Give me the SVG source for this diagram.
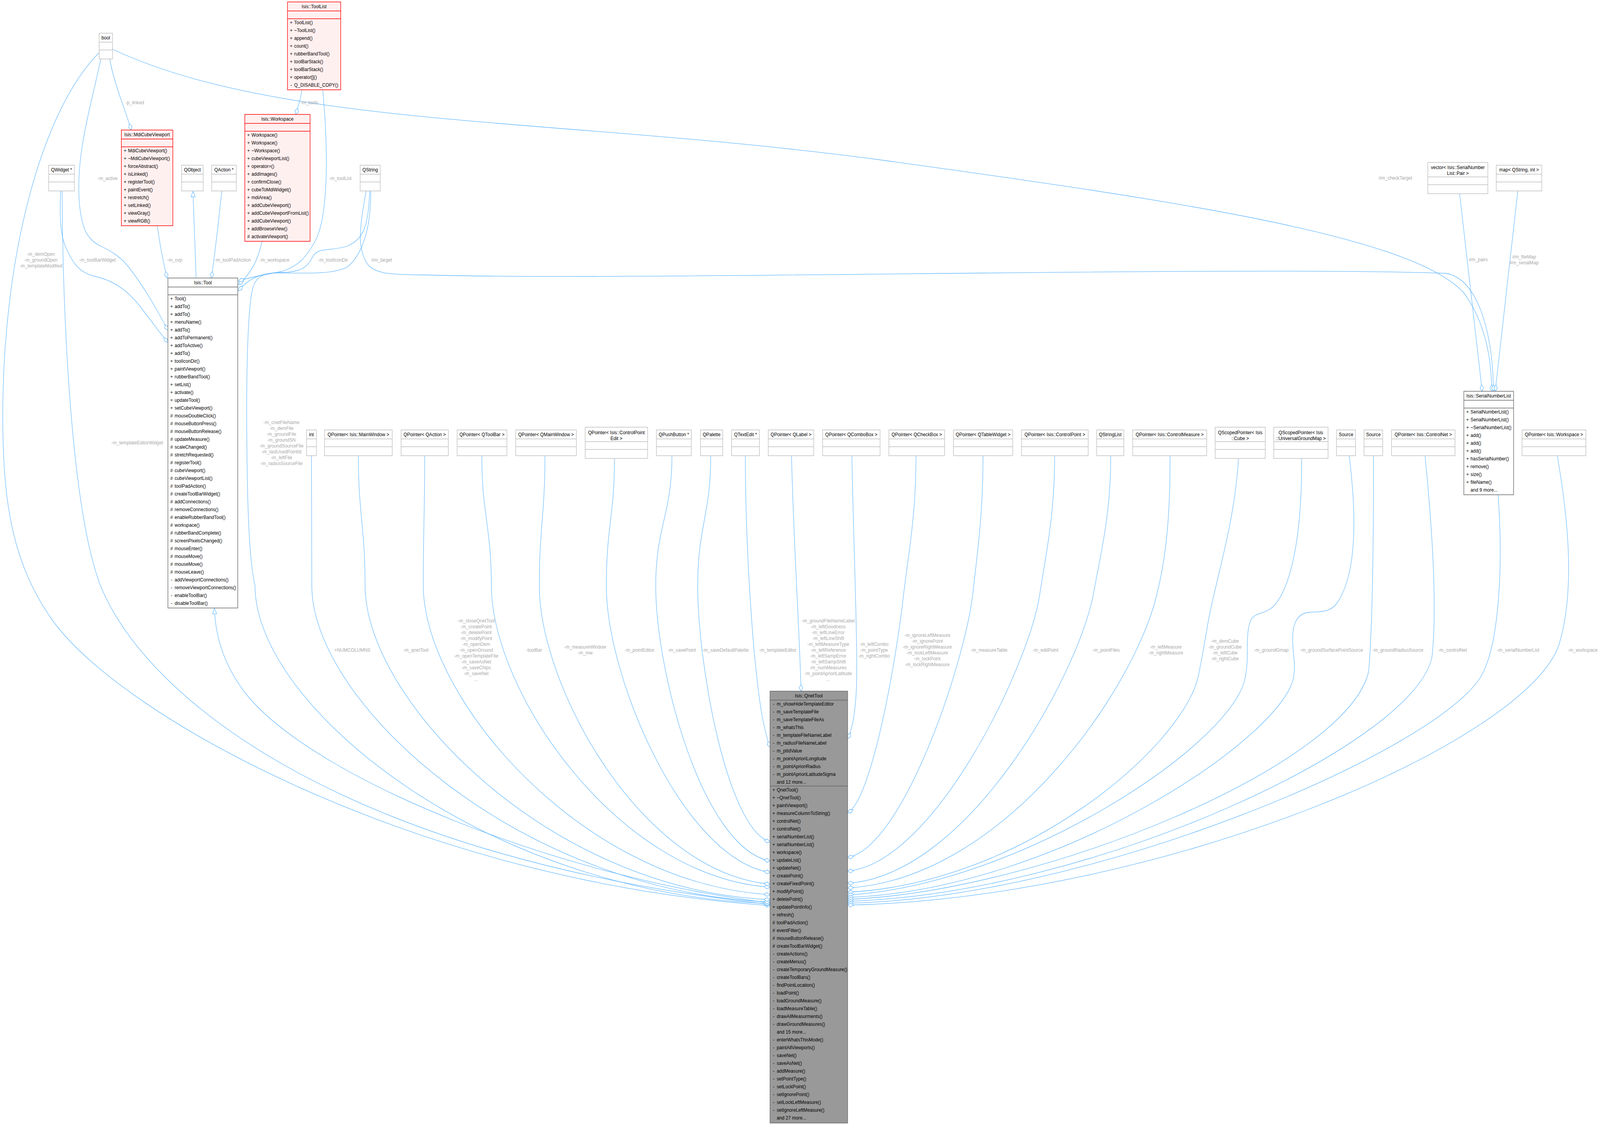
<svg xmlns="http://www.w3.org/2000/svg" width="4536" height="2881" viewBox="0 0 4536 2881" preserveAspectRatio="none" style="width:100vw;height:100vh">
<defs>
<style>
text{font-family:"Liberation Sans",Arial,Helvetica,sans-serif;font-size:13px;fill:#000}
.h,.v{text-anchor:middle}
.l{fill:#a8a8a8;text-anchor:middle}
.b{fill:#fff;stroke:#bfbfbf;stroke-width:1.5}
.bd{fill:#fff;stroke:#666;stroke-width:1.5}
.br{fill:#fff0f0;stroke:#ff0000;stroke-width:1.5}
.bq{fill:#999;stroke:#666;stroke-width:1.5}
.s{stroke:#bfbfbf;stroke-width:1.5;fill:none}
.sd{stroke:#666;stroke-width:1.5;fill:none}
.sr{stroke:#ff0000;stroke-width:1.5;fill:none}
.e{fill:none;stroke:#63b8ff;stroke-width:1.3}
.a{marker-end:url(#dia)}
.i{marker-end:url(#tri)}
</style>
<marker id="dia" viewBox="-19 -7 21 14" refX="0" refY="0" markerWidth="21" markerHeight="14" markerUnits="userSpaceOnUse" orient="auto"><path d="M0,0 L-8.5,-5 L-17,0 L-8.5,5 Z" fill="#fff" stroke="#63b8ff" stroke-width="1.3"/></marker>
<marker id="tri" viewBox="-16 -8 18 16" refX="0" refY="0" markerWidth="18" markerHeight="16" markerUnits="userSpaceOnUse" orient="auto"><path d="M0,0 L-14,-6 L-14,6 Z" fill="#fff" stroke="#63b8ff" stroke-width="1.3"/></marker>
</defs>
<rect width="4536" height="2881" fill="#fff"/>

<g id="edges">
<path class="e a" d="M311,151 C325,220 355,280 372,333"/>
<path class="e a" d="M856,230 C852,255 845,275 838,293"/>
<path class="e a" d="M286,151 C250,300 215,400 225,520 C232,590 250,615 285,630 C320,645 345,660 370,690 C420,750 455,810 476,846"/>
<path class="e a" d="M172,489 C168,560 172,610 190,640 C210,680 230,700 270,708 C330,720 370,750 410,800 C440,835 460,860 476,877"/>
<path class="e a" d="M446,578 C455,640 465,680 474,712"/>
<path class="e i" d="M556,712 C553,640 550,560 547,490"/>
<path class="e a" d="M629,489 C620,560 610,650 599,712"/>
<path class="e a" d="M743,618 C735,650 722,680 705,700 C695,712 686,722 676,728"/>
<path class="e a" d="M915,230 C932,400 930,560 892,620 C870,655 850,680 800,695 C740,705 700,712 676,720"/>
<path class="e a" d="M1048,489 C1045,580 1030,612 985,630 C940,645 900,630 885,660 C870,690 840,698 790,698 C730,700 700,718 676,745"/>
<path class="e a" d="M319,126 C800,330 1600,300 2500,410 C3300,510 4000,600 4150,750 C4215,830 4229,930 4229,1002"/>
<path class="e a" d="M1038,489 C1020,580 1010,640 1045,680 C1070,702 1110,703 1200,704 C1800,720 3500,680 4100,700 C4190,715 4232,850 4234,1002"/>
<path class="e a" d="M4138,496 L4202,1002"/>
<path class="e a" d="M4303,489 L4239,1002"/>
<path class="e i" d="M2183,2312 C1600,2250 900,2000 700,1780 C630,1700 610,1620 608,1558"/>
<path class="e a" d="M281,135 C120,280 10,650 8,1050 C6,1300 40,1450 150,1590 C350,1840 1200,2260 2183,2319"/>
<path class="e a" d="M176,489 C178,800 200,1300 285,1500 C420,1800 1000,2200 2183,2316"/>
<path class="e a" d="M1051,489 C1052,580 1030,645 990,680 C960,702 880,700 800,699 C750,698 726,705 716,740 C700,800 698,1000 700,1150 C702,1350 710,1450 723,1500 C723,1810 1380,2290 2183,2314"/>
<path class="e a" d="M883,1167 C883,1317 884,1350 884,1500 C884,1800 1470,2283 2183,2310"/>
<path class="e a" d="M1016,1167 C1016,1317 1035,1350 1035,1500 C1035,1790 1550,2278 2183,2304"/>
<path class="e a" d="M1204,1167 C1204,1317 1200,1350 1200,1500 C1200,1780 1640,2262 2183,2291"/>
<path class="e a" d="M1366,1167 C1366,1317 1393,1350 1393,1500 C1393,1770 1750,2245 2183,2272"/>
<path class="e a" d="M1545,1167 C1545,1317 1529,1350 1529,1500 C1529,1760 1820,2235 2183,2264"/>
<path class="e a" d="M1742,1174 C1742,1320 1719,1350 1719,1500 C1719,1740 1940,2200 2183,2234"/>
<path class="e a" d="M1905,1167 C1905,1317 1859,1350 1859,1500 C1859,1720 1990,2170 2183,2205"/>
<path class="e a" d="M2015,1167 C2015,1317 1978,1350 1978,1500 C1978,1700 2060,2120 2183,2156"/>
<path class="e a" d="M2113,1167 C2113,1400 2135,1700 2160,1830 C2168,1870 2176,1895 2183,1914"/>
<path class="e a" d="M2244,1167 C2250,1400 2266,1600 2271,1770"/>
<path class="e a" d="M2415,1167 C2420,1400 2432,1650 2428,1760 C2425,1830 2415,1870 2403,1892"/>
<path class="e a" d="M2597,1167 C2597,1320 2575,1420 2562,1520 C2540,1700 2470,2050 2403,2081"/>
<path class="e a" d="M2787,1167 C2787,1320 2770,1420 2758,1520 C2735,1700 2560,2170 2403,2196"/>
<path class="e a" d="M2990,1167 C2990,1320 2965,1420 2948,1520 C2920,1700 2650,2210 2403,2231"/>
<path class="e a" d="M3149,1167 C3149,1320 3120,1420 3100,1520 C3060,1720 2750,2240 2403,2262"/>
<path class="e a" d="M3317,1167 C3318,1350 3300,1450 3280,1520 C3220,1760 2850,2250 2403,2274"/>
<path class="e a" d="M3511,1175 C3500,1350 3440,1500 3420,1620 C3408,1680 3405,1700 3395,1740 C3340,1920 2900,2262 2403,2285"/>
<path class="e a" d="M3690,1175 C3692,1400 3650,1530 3600,1560 C3575,1574 3555,1570 3545,1590 C3536,1610 3536,1640 3536,1680 C3536,1700 3535,1715 3530,1735 C3500,1900 2900,2265 2403,2292"/>
<path class="e a" d="M3825,1167 C3850,1350 3840,1480 3790,1545 C3770,1570 3740,1566 3710,1568 C3675,1572 3662,1600 3665,1650 C3668,1690 3672,1700 3668,1730 C3650,1880 3000,2280 2403,2298"/>
<path class="e a" d="M3894,1167 C3894,1400 3890,1620 3880,1720 C3820,1960 2950,2285 2403,2303"/>
<path class="e a" d="M4040,1167 C4060,1350 4075,1550 4060,1680 C4020,1900 3100,2290 2403,2308"/>
<path class="e a" d="M4247,1267 C4262,1450 4250,1650 4200,1730 C4080,1920 3100,2300 2403,2313"/>
<path class="e a" d="M4415,1167 C4440,1300 4470,1500 4420,1650 C4330,1900 3300,2300 2403,2318"/>
</g>

<g id="edge-labels">
<text class="l" x="382" y="267.5">-p_linked</text>
<text class="l" x="877" y="267.5">-m_tools</text>
<text class="l" x="305" y="461.5">-m_active</text>
<text class="l" x="965" y="461.5">-m_toolList</text>
<text class="l" y="655.5"><tspan x="116">-m_demOpen</tspan><tspan x="116" dy="15">-m_groundOpen</tspan><tspan x="116" dy="15">-m_templateModified</tspan></text>
<text class="l" x="276" y="670.5">-m_toolBarWidget</text>
<text class="l" x="495" y="670.5">-m_cvp</text>
<text class="l" x="660" y="670.5">-m_toolPadAction</text>
<text class="l" x="778" y="670.5">-m_workspace</text>
<text class="l" x="944" y="670.5">-m_toolIconDir</text>
<text class="l" x="1082" y="670.5">#m_target</text>
<text class="l" x="3956" y="460.5">#m_checkTarget</text>
<text class="l" x="4191" y="669.5">#m_pairs</text>
<text class="l" y="662.5"><tspan x="4321">#m_fileMap</tspan><tspan x="4321" dy="15">#m_serialMap</tspan></text>
<text class="l" x="389" y="1138.5">-m_templateEditorWidget</text>
<text class="l" y="1086.5"><tspan x="798">-m_cnetFileName</tspan><tspan x="798" dy="15">-m_demFile</tspan><tspan x="798" dy="15">-m_groundFile</tspan><tspan x="798" dy="15">-m_groundSN</tspan><tspan x="798" dy="15">-m_groundSourceFile</tspan><tspan x="798" dy="15">-m_lastUsedPointId</tspan><tspan x="798" dy="15">-m_leftFile</tspan><tspan x="798" dy="15">-m_radiusSourceFile</tspan></text>
<text class="l" x="999" y="1669.5">+NUMCOLUMNS</text>
<text class="l" x="1179" y="1669.5">-m_qnetTool</text>
<text class="l" y="1594.5"><tspan x="1350">-m_closeQnetTool</tspan><tspan x="1350" dy="15">-m_createPoint</tspan><tspan x="1350" dy="15">-m_deletePoint</tspan><tspan x="1350" dy="15">-m_modifyPoint</tspan><tspan x="1350" dy="15">-m_openDem</tspan><tspan x="1350" dy="15">-m_openGround</tspan><tspan x="1350" dy="15">-m_openTemplateFile</tspan><tspan x="1350" dy="15">-m_saveAsNet</tspan><tspan x="1350" dy="15">-m_saveChips</tspan><tspan x="1350" dy="15">-m_saveNet</tspan><tspan x="1350" dy="15">...</tspan></text>
<text class="l" x="1514" y="1669.5">-toolBar</text>
<text class="l" y="1661.5"><tspan x="1659">-m_measureWindow</tspan><tspan x="1659" dy="15">-m_mw</tspan></text>
<text class="l" x="1813" y="1669.5">-m_pointEditor</text>
<text class="l" x="1933" y="1669.5">-m_savePoint</text>
<text class="l" x="2057" y="1669.5">-m_saveDefaultPalette</text>
<text class="l" x="2205" y="1669.5">-m_templateEditor</text>
<text class="l" y="1594.5"><tspan x="2348">-m_groundFileNameLabel</tspan><tspan x="2348" dy="15">-m_leftGoodness</tspan><tspan x="2348" dy="15">-m_leftLineError</tspan><tspan x="2348" dy="15">-m_leftLineShift</tspan><tspan x="2348" dy="15">-m_leftMeasureType</tspan><tspan x="2348" dy="15">-m_leftReference</tspan><tspan x="2348" dy="15">-m_leftSampError</tspan><tspan x="2348" dy="15">-m_leftSampShift</tspan><tspan x="2348" dy="15">-m_numMeasures</tspan><tspan x="2348" dy="15">-m_pointAprioriLatitude</tspan><tspan x="2348" dy="15">...</tspan></text>
<text class="l" y="1654.5"><tspan x="2478">-m_leftCombo</tspan><tspan x="2478" dy="15">-m_pointType</tspan><tspan x="2478" dy="15">-m_rightCombo</tspan></text>
<text class="l" y="1631.5"><tspan x="2629">-m_ignoreLeftMeasure</tspan><tspan x="2629" dy="15">-m_ignorePoint</tspan><tspan x="2629" dy="15">-m_ignoreRightMeasure</tspan><tspan x="2629" dy="15">-m_lockLeftMeasure</tspan><tspan x="2629" dy="15">-m_lockPoint</tspan><tspan x="2629" dy="15">-m_lockRightMeasure</tspan></text>
<text class="l" x="2804" y="1669.5">-m_measureTable</text>
<text class="l" x="2964" y="1669.5">-m_editPoint</text>
<text class="l" x="3136" y="1669.5">-m_pointFiles</text>
<text class="l" y="1661.5"><tspan x="3305">-m_leftMeasure</tspan><tspan x="3305" dy="15">-m_rightMeasure</tspan></text>
<text class="l" y="1646.5"><tspan x="3473">-m_demCube</tspan><tspan x="3473" dy="15">-m_groundCube</tspan><tspan x="3473" dy="15">-m_leftCube</tspan><tspan x="3473" dy="15">-m_rightCube</tspan></text>
<text class="l" x="3604" y="1669.5">-m_groundGmap</text>
<text class="l" x="3775" y="1669.5">-m_groundSurfacePointSource</text>
<text class="l" x="3963" y="1669.5">-m_groundRadiusSource</text>
<text class="l" x="4118" y="1669.5">-m_controlNet</text>
<text class="l" x="4304" y="1669.5">-m_serialNumberList</text>
<text class="l" x="4487" y="1669.5">-m_workspace</text>
</g>

<g id="bool"><rect class="b" x="281" y="85" width="38" height="66"/><path class="s" d="M281,108h38M281,128h38"/><text class="h" x="300" y="101">bool</text></g>

<g id="ToolList"><rect class="br" x="815" y="5" width="151" height="225"/><path class="sr" d="M815,28h151M815,48h151"/><text class="h" x="890.5" y="21">Isis::ToolList</text>
<text class="v" y="62.5"><tspan x="825.5">+</tspan><tspan x="825.5" dy="20">+</tspan><tspan x="825.5" dy="20">+</tspan><tspan x="825.5" dy="20">+</tspan><tspan x="825.5" dy="20">+</tspan><tspan x="825.5" dy="20">+</tspan><tspan x="825.5" dy="20">+</tspan><tspan x="825.5" dy="20">+</tspan><tspan x="825.5" dy="20">-</tspan></text>
<text y="62.5"><tspan x="834">ToolList()</tspan><tspan x="834" dy="20">~ToolList()</tspan><tspan x="834" dy="20">append()</tspan><tspan x="834" dy="20">count()</tspan><tspan x="834" dy="20">rubberBandTool()</tspan><tspan x="834" dy="20">toolBarStack()</tspan><tspan x="834" dy="20">toolBarStack()</tspan><tspan x="834" dy="20">operator[]()</tspan><tspan x="834" dy="20">Q_DISABLE_COPY()</tspan></text></g>

<g id="MdiCubeViewport"><rect class="br" x="344" y="333" width="146" height="245"/><path class="sr" d="M344,356h146M344,376h146"/><text class="h" x="417" y="349">Isis::MdiCubeViewport</text>
<text class="v" y="390.5"><tspan x="354.5">+</tspan><tspan x="354.5" dy="20">+</tspan><tspan x="354.5" dy="20">+</tspan><tspan x="354.5" dy="20">+</tspan><tspan x="354.5" dy="20">+</tspan><tspan x="354.5" dy="20">+</tspan><tspan x="354.5" dy="20">+</tspan><tspan x="354.5" dy="20">+</tspan><tspan x="354.5" dy="20">+</tspan><tspan x="354.5" dy="20">+</tspan></text>
<text y="390.5"><tspan x="363">MdiCubeViewport()</tspan><tspan x="363" dy="20">~MdiCubeViewport()</tspan><tspan x="363" dy="20">forceAbstract()</tspan><tspan x="363" dy="20">isLinked()</tspan><tspan x="363" dy="20">registerTool()</tspan><tspan x="363" dy="20">paintEvent()</tspan><tspan x="363" dy="20">restretch()</tspan><tspan x="363" dy="20">setLinked()</tspan><tspan x="363" dy="20">viewGray()</tspan><tspan x="363" dy="20">viewRGB()</tspan></text></g>

<g id="Workspace"><rect class="br" x="694" y="293" width="185" height="325"/><path class="sr" d="M694,316h185M694,336h185"/><text class="h" x="786.5" y="309">Isis::Workspace</text>
<text class="v" y="350.5"><tspan x="704.5">+</tspan><tspan x="704.5" dy="20">+</tspan><tspan x="704.5" dy="20">+</tspan><tspan x="704.5" dy="20">+</tspan><tspan x="704.5" dy="20">+</tspan><tspan x="704.5" dy="20">+</tspan><tspan x="704.5" dy="20">+</tspan><tspan x="704.5" dy="20">+</tspan><tspan x="704.5" dy="20">+</tspan><tspan x="704.5" dy="20">+</tspan><tspan x="704.5" dy="20">+</tspan><tspan x="704.5" dy="20">+</tspan><tspan x="704.5" dy="20">+</tspan><tspan x="704.5" dy="20">#</tspan></text>
<text y="350.5"><tspan x="713">Workspace()</tspan><tspan x="713" dy="20">Workspace()</tspan><tspan x="713" dy="20">~Workspace()</tspan><tspan x="713" dy="20">cubeViewportList()</tspan><tspan x="713" dy="20">operator=()</tspan><tspan x="713" dy="20">addImages()</tspan><tspan x="713" dy="20">confirmClose()</tspan><tspan x="713" dy="20">cubeToMdiWidget()</tspan><tspan x="713" dy="20">mdiArea()</tspan><tspan x="713" dy="20">addCubeViewport()</tspan><tspan x="713" dy="20">addCubeViewportFromList()</tspan><tspan x="713" dy="20">addCubeViewport()</tspan><tspan x="713" dy="20">addBrowseView()</tspan><tspan x="713" dy="20">activateViewport()</tspan></text></g>

<g id="QWidget"><rect class="b" x="138" y="423" width="73" height="66"/><path class="s" d="M138,446h73M138,466h73"/><text class="h" x="174.5" y="439">QWidget *</text></g>
<g id="QObject"><rect class="b" x="515" y="423" width="61" height="66"/><path class="s" d="M515,446h61M515,466h61"/><text class="h" x="545.5" y="439">QObject</text></g>
<g id="QAction"><rect class="b" x="600" y="423" width="70" height="66"/><path class="s" d="M600,446h70M600,466h70"/><text class="h" x="635" y="439">QAction *</text></g>
<g id="QString"><rect class="b" x="1021" y="423" width="57" height="66"/><path class="s" d="M1021,446h57M1021,466h57"/><text class="h" x="1049.5" y="439">QString</text></g>
<g id="vectorPair"><rect class="b" x="4048" y="416" width="170" height="80"/><path class="s" d="M4048,453h170M4048,473h170"/><text class="h" y="433.5"><tspan x="4133">vector&lt; Isis::SerialNumber</tspan><tspan x="4133" dy="15">List::Pair &gt;</tspan></text></g>
<g id="mapQStringInt"><rect class="b" x="4242" y="423" width="129" height="66"/><path class="s" d="M4242,446h129M4242,466h129"/><text class="h" x="4306.5" y="439">map&lt; QString, int &gt;</text></g>

<g id="Tool"><rect class="bd" x="476" y="712" width="198" height="845"/><path class="sd" d="M476,735h198M476,755h198"/><text class="h" x="575" y="728">Isis::Tool</text>
<text class="v" y="769.5"><tspan x="486.5">+</tspan><tspan x="486.5" dy="20">+</tspan><tspan x="486.5" dy="20">+</tspan><tspan x="486.5" dy="20">+</tspan><tspan x="486.5" dy="20">+</tspan><tspan x="486.5" dy="20">+</tspan><tspan x="486.5" dy="20">+</tspan><tspan x="486.5" dy="20">+</tspan><tspan x="486.5" dy="20">+</tspan><tspan x="486.5" dy="20">+</tspan><tspan x="486.5" dy="20">+</tspan><tspan x="486.5" dy="20">+</tspan><tspan x="486.5" dy="20">+</tspan><tspan x="486.5" dy="20">+</tspan><tspan x="486.5" dy="20">+</tspan><tspan x="486.5" dy="20">#</tspan><tspan x="486.5" dy="20">#</tspan><tspan x="486.5" dy="20">#</tspan><tspan x="486.5" dy="20">#</tspan><tspan x="486.5" dy="20">#</tspan><tspan x="486.5" dy="20">#</tspan><tspan x="486.5" dy="20">#</tspan><tspan x="486.5" dy="20">#</tspan><tspan x="486.5" dy="20">#</tspan><tspan x="486.5" dy="20">#</tspan><tspan x="486.5" dy="20">#</tspan><tspan x="486.5" dy="20">#</tspan><tspan x="486.5" dy="20">#</tspan><tspan x="486.5" dy="20">#</tspan><tspan x="486.5" dy="20">#</tspan><tspan x="486.5" dy="20">#</tspan><tspan x="486.5" dy="20">#</tspan><tspan x="486.5" dy="20">#</tspan><tspan x="486.5" dy="20">#</tspan><tspan x="486.5" dy="20">#</tspan><tspan x="486.5" dy="20">#</tspan><tspan x="486.5" dy="20">-</tspan><tspan x="486.5" dy="20">-</tspan><tspan x="486.5" dy="20">-</tspan><tspan x="486.5" dy="20">-</tspan></text>
<text y="769.5"><tspan x="495">Tool()</tspan><tspan x="495" dy="20">addTo()</tspan><tspan x="495" dy="20">addTo()</tspan><tspan x="495" dy="20">menuName()</tspan><tspan x="495" dy="20">addTo()</tspan><tspan x="495" dy="20">addToPermanent()</tspan><tspan x="495" dy="20">addToActive()</tspan><tspan x="495" dy="20">addTo()</tspan><tspan x="495" dy="20">toolIconDir()</tspan><tspan x="495" dy="20">paintViewport()</tspan><tspan x="495" dy="20">rubberBandTool()</tspan><tspan x="495" dy="20">setList()</tspan><tspan x="495" dy="20">activate()</tspan><tspan x="495" dy="20">updateTool()</tspan><tspan x="495" dy="20">setCubeViewport()</tspan><tspan x="495" dy="20">mouseDoubleClick()</tspan><tspan x="495" dy="20">mouseButtonPress()</tspan><tspan x="495" dy="20">mouseButtonRelease()</tspan><tspan x="495" dy="20">updateMeasure()</tspan><tspan x="495" dy="20">scaleChanged()</tspan><tspan x="495" dy="20">stretchRequested()</tspan><tspan x="495" dy="20">registerTool()</tspan><tspan x="495" dy="20">cubeViewport()</tspan><tspan x="495" dy="20">cubeViewportList()</tspan><tspan x="495" dy="20">toolPadAction()</tspan><tspan x="495" dy="20">createToolBarWidget()</tspan><tspan x="495" dy="20">addConnections()</tspan><tspan x="495" dy="20">removeConnections()</tspan><tspan x="495" dy="20">enableRubberBandTool()</tspan><tspan x="495" dy="20">workspace()</tspan><tspan x="495" dy="20">rubberBandComplete()</tspan><tspan x="495" dy="20">screenPixelsChanged()</tspan><tspan x="495" dy="20">mouseEnter()</tspan><tspan x="495" dy="20">mouseMove()</tspan><tspan x="495" dy="20">mouseMove()</tspan><tspan x="495" dy="20">mouseLeave()</tspan><tspan x="495" dy="20">addViewportConnections()</tspan><tspan x="495" dy="20">removeViewportConnections()</tspan><tspan x="495" dy="20">enableToolBar()</tspan><tspan x="495" dy="20">disableToolBar()</tspan></text></g>

<g id="SerialNumberList"><rect class="bd" x="4150" y="1002" width="141" height="265"/><path class="sd" d="M4150,1025h141M4150,1045h141"/><text class="h" x="4220.5" y="1018">Isis::SerialNumberList</text>
<text class="v" y="1059.5"><tspan x="4160.5">+</tspan><tspan x="4160.5" dy="20">+</tspan><tspan x="4160.5" dy="20">+</tspan><tspan x="4160.5" dy="20">+</tspan><tspan x="4160.5" dy="20">+</tspan><tspan x="4160.5" dy="20">+</tspan><tspan x="4160.5" dy="20">+</tspan><tspan x="4160.5" dy="20">+</tspan><tspan x="4160.5" dy="20">+</tspan><tspan x="4160.5" dy="20">+</tspan></text>
<text y="1059.5"><tspan x="4169">SerialNumberList()</tspan><tspan x="4169" dy="20">SerialNumberList()</tspan><tspan x="4169" dy="20">~SerialNumberList()</tspan><tspan x="4169" dy="20">add()</tspan><tspan x="4169" dy="20">add()</tspan><tspan x="4169" dy="20">add()</tspan><tspan x="4169" dy="20">hasSerialNumber()</tspan><tspan x="4169" dy="20">remove()</tspan><tspan x="4169" dy="20">size()</tspan><tspan x="4169" dy="20">fileName()</tspan><tspan x="4169" dy="20">and 9 more...</tspan></text></g>

<g id="int"><rect class="b" x="869" y="1101" width="28" height="66"/><path class="s" d="M869,1124h28M869,1144h28"/><text class="h" x="883" y="1117">int</text></g>
<g id="QPointerMainWindowIsis"><rect class="b" x="920" y="1101" width="192" height="66"/><path class="s" d="M920,1124h192M920,1144h192"/><text class="h" x="1016" y="1117">QPointer&lt; Isis::MainWindow &gt;</text></g>
<g id="QPointerQAction"><rect class="b" x="1137" y="1101" width="134" height="66"/><path class="s" d="M1137,1124h134M1137,1144h134"/><text class="h" x="1204" y="1117">QPointer&lt; QAction &gt;</text></g>
<g id="QPointerQToolBar"><rect class="b" x="1296" y="1101" width="141" height="66"/><path class="s" d="M1296,1124h141M1296,1144h141"/><text class="h" x="1366.5" y="1117">QPointer&lt; QToolBar &gt;</text></g>
<g id="QPointerQMainWindow"><rect class="b" x="1462" y="1101" width="172" height="66"/><path class="s" d="M1462,1124h172M1462,1144h172"/><text class="h" x="1548" y="1117">QPointer&lt; QMainWindow &gt;</text></g>
<g id="QPointerControlPointEdit"><rect class="b" x="1659" y="1094" width="177" height="80"/><path class="s" d="M1659,1131h177M1659,1151h177"/><text class="h" y="1112"><tspan x="1747.5">QPointer&lt; Isis::ControlPoint</tspan><tspan x="1747.5" dy="15">Edit &gt;</tspan></text></g>
<g id="QPushButton"><rect class="b" x="1861" y="1101" width="99" height="66"/><path class="s" d="M1861,1124h99M1861,1144h99"/><text class="h" x="1910.5" y="1117">QPushButton *</text></g>
<g id="QPalette"><rect class="b" x="1986" y="1101" width="63" height="66"/><path class="s" d="M1986,1124h63M1986,1144h63"/><text class="h" x="2017.5" y="1117">QPalette</text></g>
<g id="QTextEdit"><rect class="b" x="2074" y="1101" width="79" height="66"/><path class="s" d="M2074,1124h79M2074,1144h79"/><text class="h" x="2113.5" y="1117">QTextEdit *</text></g>
<g id="QPointerQLabel"><rect class="b" x="2178" y="1101" width="129" height="66"/><path class="s" d="M2178,1124h129M2178,1144h129"/><text class="h" x="2242.5" y="1117">QPointer&lt; QLabel &gt;</text></g>
<g id="QPointerQComboBox"><rect class="b" x="2332" y="1101" width="163" height="66"/><path class="s" d="M2332,1124h163M2332,1144h163"/><text class="h" x="2413.5" y="1117">QPointer&lt; QComboBox &gt;</text></g>
<g id="QPointerQCheckBox"><rect class="b" x="2520" y="1101" width="158" height="66"/><path class="s" d="M2520,1124h158M2520,1144h158"/><text class="h" x="2599" y="1117">QPointer&lt; QCheckBox &gt;</text></g>
<g id="QPointerQTableWidget"><rect class="b" x="2703" y="1101" width="168" height="66"/><path class="s" d="M2703,1124h168M2703,1144h168"/><text class="h" x="2787" y="1117">QPointer&lt; QTableWidget &gt;</text></g>
<g id="QPointerControlPoint"><rect class="b" x="2896" y="1101" width="189" height="66"/><path class="s" d="M2896,1124h189M2896,1144h189"/><text class="h" x="2990.5" y="1117">QPointer&lt; Isis::ControlPoint &gt;</text></g>
<g id="QStringList"><rect class="b" x="3109" y="1101" width="77" height="66"/><path class="s" d="M3109,1124h77M3109,1144h77"/><text class="h" x="3147.5" y="1117">QStringList</text></g>
<g id="QPointerControlMeasure"><rect class="b" x="3211" y="1101" width="210" height="66"/><path class="s" d="M3211,1124h210M3211,1144h210"/><text class="h" x="3316" y="1117">QPointer&lt; Isis::ControlMeasure &gt;</text></g>
<g id="QScopedPointerCube"><rect class="b" x="3445" y="1094" width="142" height="80"/><path class="s" d="M3445,1131h142M3445,1151h142"/><text class="h" y="1112"><tspan x="3516">QScopedPointer&lt; Isis</tspan><tspan x="3516" dy="15">::Cube &gt;</tspan></text></g>
<g id="QScopedPointerUGM"><rect class="b" x="3611" y="1094" width="154" height="80"/><path class="s" d="M3611,1131h154M3611,1151h154"/><text class="h" y="1112"><tspan x="3688">QScopedPointer&lt; Isis</tspan><tspan x="3688" dy="15">::UniversalGroundMap &gt;</tspan></text></g>
<g id="Source1"><rect class="b" x="3789" y="1101" width="54" height="66"/><path class="s" d="M3789,1124h54M3789,1144h54"/><text class="h" x="3816" y="1117">Source</text></g>
<g id="Source2"><rect class="b" x="3867" y="1101" width="53" height="66"/><path class="s" d="M3867,1124h53M3867,1144h53"/><text class="h" x="3893.5" y="1117">Source</text></g>
<g id="QPointerControlNet"><rect class="b" x="3945" y="1101" width="180" height="66"/><path class="s" d="M3945,1124h180M3945,1144h180"/><text class="h" x="4035" y="1117">QPointer&lt; Isis::ControlNet &gt;</text></g>
<g id="QPointerWorkspace"><rect class="b" x="4315" y="1101" width="181" height="66"/><path class="s" d="M4315,1124h181M4315,1144h181"/><text class="h" x="4405.5" y="1117">QPointer&lt; Isis::Workspace &gt;</text></g>

<g id="QnetTool"><rect class="bq" x="2183" y="1770" width="220" height="1106"/><path class="sd" d="M2183,1793h220M2183,2013h220"/><text class="h" x="2293" y="1786">Isis::QnetTool</text>
<text class="v" y="1807.5"><tspan x="2193.5">-</tspan><tspan x="2193.5" dy="20">-</tspan><tspan x="2193.5" dy="20">-</tspan><tspan x="2193.5" dy="20">-</tspan><tspan x="2193.5" dy="20">-</tspan><tspan x="2193.5" dy="20">-</tspan><tspan x="2193.5" dy="20">-</tspan><tspan x="2193.5" dy="20">-</tspan><tspan x="2193.5" dy="20">-</tspan><tspan x="2193.5" dy="20">-</tspan></text>
<text y="1807.5"><tspan x="2202">m_showHideTemplateEditor</tspan><tspan x="2202" dy="20">m_saveTemplateFile</tspan><tspan x="2202" dy="20">m_saveTemplateFileAs</tspan><tspan x="2202" dy="20">m_whatsThis</tspan><tspan x="2202" dy="20">m_templateFileNameLabel</tspan><tspan x="2202" dy="20">m_radiusFileNameLabel</tspan><tspan x="2202" dy="20">m_ptIdValue</tspan><tspan x="2202" dy="20">m_pointAprioriLongitude</tspan><tspan x="2202" dy="20">m_pointAprioriRadius</tspan><tspan x="2202" dy="20">m_pointAprioriLatitudeSigma</tspan><tspan x="2202" dy="20">and 12 more...</tspan></text>
<text class="v" y="2027.5"><tspan x="2193.5">+</tspan><tspan x="2193.5" dy="20">+</tspan><tspan x="2193.5" dy="20">+</tspan><tspan x="2193.5" dy="20">+</tspan><tspan x="2193.5" dy="20">+</tspan><tspan x="2193.5" dy="20">+</tspan><tspan x="2193.5" dy="20">+</tspan><tspan x="2193.5" dy="20">+</tspan><tspan x="2193.5" dy="20">+</tspan><tspan x="2193.5" dy="20">+</tspan><tspan x="2193.5" dy="20">+</tspan><tspan x="2193.5" dy="20">+</tspan><tspan x="2193.5" dy="20">+</tspan><tspan x="2193.5" dy="20">+</tspan><tspan x="2193.5" dy="20">+</tspan><tspan x="2193.5" dy="20">+</tspan><tspan x="2193.5" dy="20">+</tspan><tspan x="2193.5" dy="20">#</tspan><tspan x="2193.5" dy="20">#</tspan><tspan x="2193.5" dy="20">#</tspan><tspan x="2193.5" dy="20">#</tspan><tspan x="2193.5" dy="20">-</tspan><tspan x="2193.5" dy="20">-</tspan><tspan x="2193.5" dy="20">-</tspan><tspan x="2193.5" dy="20">-</tspan><tspan x="2193.5" dy="20">-</tspan><tspan x="2193.5" dy="20">-</tspan><tspan x="2193.5" dy="20">-</tspan><tspan x="2193.5" dy="20">-</tspan><tspan x="2193.5" dy="20">-</tspan><tspan x="2193.5" dy="20">-</tspan><tspan x="2193.5" dy="40">-</tspan><tspan x="2193.5" dy="20">-</tspan><tspan x="2193.5" dy="20">-</tspan><tspan x="2193.5" dy="20">-</tspan><tspan x="2193.5" dy="20">-</tspan><tspan x="2193.5" dy="20">-</tspan><tspan x="2193.5" dy="20">-</tspan><tspan x="2193.5" dy="20">-</tspan><tspan x="2193.5" dy="20">-</tspan><tspan x="2193.5" dy="20">-</tspan></text>
<text y="2027.5"><tspan x="2202">QnetTool()</tspan><tspan x="2202" dy="20">~QnetTool()</tspan><tspan x="2202" dy="20">paintViewport()</tspan><tspan x="2202" dy="20">measureColumnToString()</tspan><tspan x="2202" dy="20">controlNet()</tspan><tspan x="2202" dy="20">controlNet()</tspan><tspan x="2202" dy="20">serialNumberList()</tspan><tspan x="2202" dy="20">serialNumberList()</tspan><tspan x="2202" dy="20">workspace()</tspan><tspan x="2202" dy="20">updateList()</tspan><tspan x="2202" dy="20">updateNet()</tspan><tspan x="2202" dy="20">createPoint()</tspan><tspan x="2202" dy="20">createFixedPoint()</tspan><tspan x="2202" dy="20">modifyPoint()</tspan><tspan x="2202" dy="20">deletePoint()</tspan><tspan x="2202" dy="20">updatePointInfo()</tspan><tspan x="2202" dy="20">refresh()</tspan><tspan x="2202" dy="20">toolPadAction()</tspan><tspan x="2202" dy="20">eventFilter()</tspan><tspan x="2202" dy="20">mouseButtonRelease()</tspan><tspan x="2202" dy="20">createToolBarWidget()</tspan><tspan x="2202" dy="20">createActions()</tspan><tspan x="2202" dy="20">createMenus()</tspan><tspan x="2202" dy="20">createTemporaryGroundMeasure()</tspan><tspan x="2202" dy="20">createToolBars()</tspan><tspan x="2202" dy="20">findPointLocation()</tspan><tspan x="2202" dy="20">loadPoint()</tspan><tspan x="2202" dy="20">loadGroundMeasure()</tspan><tspan x="2202" dy="20">loadMeasureTable()</tspan><tspan x="2202" dy="20">drawAllMeasurments()</tspan><tspan x="2202" dy="20">drawGroundMeasures()</tspan><tspan x="2202" dy="20">and 15 more...</tspan><tspan x="2202" dy="20">enterWhatsThisMode()</tspan><tspan x="2202" dy="20">paintAllViewports()</tspan><tspan x="2202" dy="20">saveNet()</tspan><tspan x="2202" dy="20">saveAsNet()</tspan><tspan x="2202" dy="20">addMeasure()</tspan><tspan x="2202" dy="20">setPointType()</tspan><tspan x="2202" dy="20">setLockPoint()</tspan><tspan x="2202" dy="20">setIgnorePoint()</tspan><tspan x="2202" dy="20">setLockLeftMeasure()</tspan><tspan x="2202" dy="20">setIgnoreLeftMeasure()</tspan><tspan x="2202" dy="20">and 27 more...</tspan></text></g>
</svg>
